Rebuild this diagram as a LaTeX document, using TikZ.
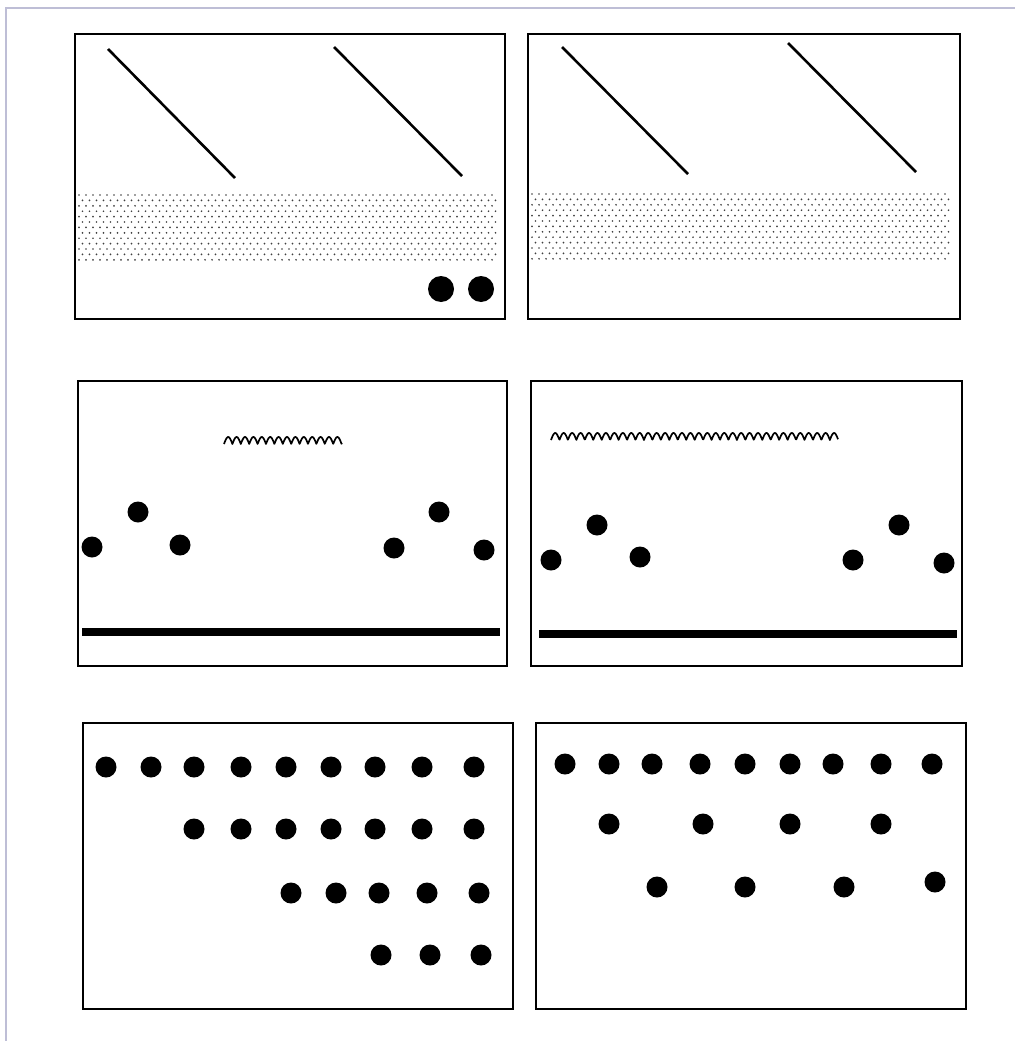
\documentclass[tikz,border=0pt]{standalone}
\definecolor{framegray}{RGB}{190,190,214}
\begin{document}
\begin{tikzpicture}[x=1pt, y=-1pt,
	panel/.style = {line width=1.8pt},
	slant/.style = {line width=2.6pt},
	wave/.style = {line width=1.7pt, line join=round},
	bar/.style = {line width=7.5pt},
	stip/.style = {fill=black!75}]
	\useasboundingbox (0,0) rectangle (1015,1041);
	% outer frame, only top and left show
	\draw [framegray, line width=1.5pt] (6,1041) -- (6,8) -- (1015,8);
	% top row
	\draw [panel] (75,34) rectangle (505,319);
	\draw [panel] (528,34) rectangle (960,319);
	\foreach \bx/\by/\bw in {78/195/420, 531/194/425} {
		\foreach \r in {0,...,12} {
			\pgfmathsetmacro{\yy}{\by+5.4*\r}
			\pgfmathsetmacro{\xs}{\bx+1+3.5*mod(\r,2)}
			\pgfmathtruncatemacro{\nc}{(\bw-6)/7}
			\foreach \c in {0,...,\nc}
				\fill [stip] ({\xs+7*\c},\yy) circle (0.95pt);
		}
	}
	\draw [slant] (108,49) -- (235,178);
	\draw [slant] (334,47) -- (462,176);
	\draw [slant] (562,47) -- (688,174);
	\draw [slant] (788,43) -- (916,172);
	\fill (441,289) circle (13pt);
	\fill (481,289) circle (13pt);
	% middle row
	\draw [panel] (78,381) rectangle (507,666);
	\draw [panel] (531,381) rectangle (962,666);
	\draw [wave] plot [domain=224:342, samples=240] (\x, {444-7*abs(sin((\x-224)/8.4*180))});
	\draw [wave] plot [domain=551:838, samples=600] (\x, {440-7*abs(sin((\x-551)/8.45*180))});
	\foreach \px/\py in {92/547, 138/512, 180/545, 394/548, 439/512, 484/550,
			551/560, 597/525, 640/557, 853/560, 899/525, 944/563}
		\fill (\px,\py) circle (10.5pt);
	\draw [bar] (82,632) -- (500,632);
	\draw [bar] (539,634) -- (957,634);
	% bottom row
	\draw [panel] (83,723) rectangle (513,1009);
	\draw [panel] (536,723) rectangle (966,1009);
	\foreach \px in {106,151,194,241,286,331,375,422,474}
		\fill (\px,767) circle (10.5pt);
	\foreach \px in {194,241,286,331,375,422,474}
		\fill (\px,829) circle (10.5pt);
	\foreach \px in {291,336,379,427,479}
		\fill (\px,893) circle (10.5pt);
	\foreach \px in {381,430,481}
		\fill (\px,955) circle (10.5pt);
	\foreach \px in {565,609,652,700,745,790,833,881,932}
		\fill (\px,764) circle (10.5pt);
	\foreach \px in {609,703,790,881}
		\fill (\px,824) circle (10.5pt);
	\foreach \px/\py in {657/887, 745/887, 844/887, 935/882}
		\fill (\px,\py) circle (10.5pt);
\end{tikzpicture}
\end{document}
